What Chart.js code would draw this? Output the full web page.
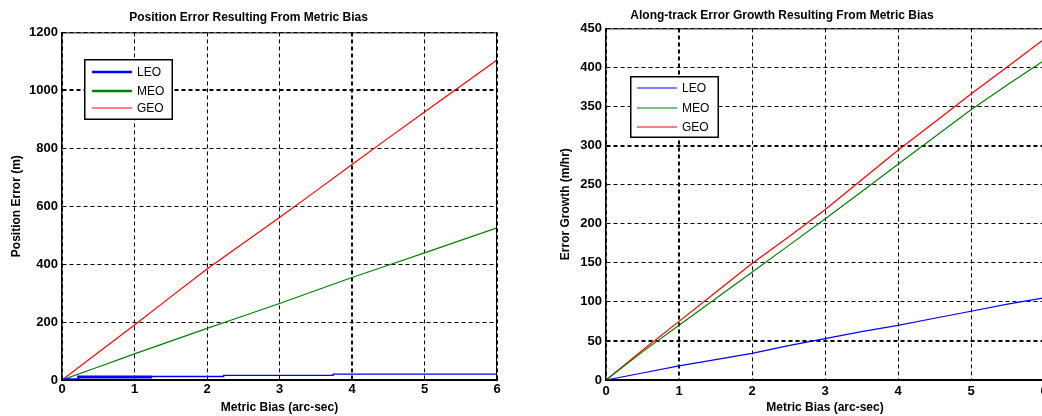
<!DOCTYPE html>
<html>
<head>
<meta charset="utf-8">
<script src="https://cdn.jsdelivr.net/npm/chart.js@4"></script>
<style>
  html, body { margin: 0; padding: 0; background: #fff; }
  body { width: 1042px; height: 416px; overflow: hidden; position: relative; }
  .panel { position: absolute; top: 0; height: 416px; }
  #leftPanel { left: 0; width: 510px; }
  #rightPanel { left: 520px; width: 540px; }
</style>
</head>
<body>
<div class="panel" id="leftPanel"><canvas id="posChart" width="510" height="416"></canvas></div>
<div class="panel" id="rightPanel"><canvas id="growthChart" width="540" height="416"></canvas></div>
<script>
// Position error vs metric bias (left plot)
const posBias = [0, 0.5, 1, 1.5, 2, 2.5, 3, 3.5, 4, 4.5, 5, 5.5, 6];
const posGEO = [0, 95, 190, 287, 383, 472, 561, 652, 744, 835, 925, 1015, 1105];
const posMEO = [0, 45, 90, 134, 178, 221, 264, 309, 354, 396, 439, 482, 525];
const posLeoBias = [0, 0.23, 1.24, 2.23, 3.74, 4.73, 6];
const posLEO = [0, 4, 10, 12, 16, 20, 20];

// Along-track error growth vs metric bias (right plot)
const growthBias = [0, 0.5, 1, 1.5, 2, 2.5, 3, 3.5, 4, 4.5, 5, 5.5, 6];
const growthLEO = [0, 9, 18, 26, 34, 44, 53, 62, 70, 79, 88, 97, 105];
const growthMEO = [0, 36, 70, 104, 138, 172, 206, 241, 276, 311, 346, 378, 409];
const growthGEO = [0, 38, 75, 112, 149, 183, 218, 256, 294, 330, 366, 401, 436];

const orbitNames = ['LEO', 'MEO', 'GEO'];
const orbitColors = ['#0000ff', '#008000', '#ff0000'];

const FONT = '"Liberation Sans", Arial, sans-serif';

const toPoints = (xs, ys) => xs.map((x, i) => ({ x: x, y: ys[i] }));

// box around the plot + legend drawn inside the axes
const boxLegendPlugin = {
    id: 'boxLegend',
    afterDraw(chart, args, opts) {
        const { ctx, chartArea: a } = chart;
        ctx.save();
        ctx.strokeStyle = '#000';
        ctx.lineWidth = 1;
        ctx.setLineDash([]);
        ctx.beginPath();
        ctx.moveTo(a.left, a.top + 0.5);
        ctx.lineTo(a.right, a.top + 0.5);
        ctx.moveTo(a.right - 0.5, a.top);
        ctx.lineTo(a.right - 0.5, a.bottom);
        ctx.stroke();

        ctx.fillStyle = '#fff';
        ctx.fillRect(opts.x, opts.y, opts.w, opts.h);
        ctx.lineWidth = 1.5;
        ctx.strokeRect(opts.x + 0.75, opts.y + 0.75, opts.w - 1.5, opts.h - 1.5);

        ctx.font = '12px ' + FONT;
        ctx.textBaseline = 'middle';
        ctx.textAlign = 'left';
        orbitNames.forEach((name, i) => {
            const y = opts.rows[i];
            ctx.strokeStyle = orbitColors[i];
            ctx.lineWidth = opts.lineWidths[i];
            ctx.beginPath();
            ctx.moveTo(opts.lineX1, y);
            ctx.lineTo(opts.lineX2, y);
            ctx.stroke();
            ctx.fillStyle = '#000';
            ctx.fillText(name, opts.textX, y + 1);
        });
        ctx.restore();
    }
};

function axisConfig(min, max, step, yWidth, xTickPad, thickX, thickY, yTitle, yTitlePad) {
    return {
        x: {
            type: 'linear',
            min: 0, max: 6,
            afterFit: (scale) => { scale.height = 36; },
            ticks: {
                stepSize: 1, color: '#000', padding: xTickPad,
                font: { family: FONT, size: 13, weight: 'bold' },
                callback: (v) => String(v)
            },
            grid: {
                color: '#000',
                drawTicks: false,
                lineWidth: (c) => (c.tick && thickX.includes(c.tick.value)) ? 2 : 1
            },
            border: { display: true, color: '#000', width: 2, dash: [4, 3] },
            title: {
                display: true, text: 'Metric Bias (arc-sec)', color: '#000',
                font: { family: FONT, size: 12, weight: 'bold' },
                padding: { top: 0, bottom: 1 }
            }
        },
        y: {
            type: 'linear',
            min: min, max: max,
            afterFit: (scale) => { scale.width = yWidth; },
            ticks: {
                stepSize: step, color: '#000', padding: 4,
                font: { family: FONT, size: 13, weight: 'bold' },
                callback: (v) => String(v)
            },
            grid: {
                color: '#000',
                drawTicks: false,
                lineWidth: (c) => (c.tick && thickY.includes(c.tick.value)) ? 2 : 1
            },
            border: { display: true, color: '#000', width: 1.5, dash: [4, 3] },
            title: {
                display: true, text: yTitle, color: '#000',
                font: { family: FONT, size: 12, weight: 'bold' },
                padding: { top: yTitlePad, bottom: 0 }
            }
        }
    };
}

new Chart(document.getElementById('posChart'), {
    type: 'line',
    data: {
        datasets: [
            {
                label: 'LEO',
                data: toPoints(posLeoBias, posLEO),
                borderColor: orbitColors[0],
                borderWidth: 1.3,
                stepped: 'after',
                segment: { borderWidth: (c) => c.p0DataIndex === 1 ? 3 : 1.3 }
            },
            { label: 'MEO', data: toPoints(posBias, posMEO), borderColor: orbitColors[1], borderWidth: 1.2 },
            { label: 'GEO', data: toPoints(posBias, posGEO), borderColor: orbitColors[2], borderWidth: 1.2 }
        ]
    },
    options: {
        responsive: false,
        animation: false,
        elements: { point: { radius: 0 }, line: { tension: 0 } },
        layout: { padding: { left: 0, right: 13, top: 0, bottom: 0 } },
        scales: axisConfig(0, 1200, 200, 62, 2, [4], [1000], 'Position Error (m)', 9),
        plugins: {
            legend: { display: false },
            tooltip: { enabled: false },
            title: {
                display: true,
                text: 'Position Error Resulting From Metric Bias',
                color: '#000',
                font: { family: FONT, size: 12, weight: 'bold' },
                padding: { top: 10, bottom: 8 }
            },
            boxLegend: {
                x: 84, y: 59, w: 89, h: 61,
                rows: [72, 91, 108],
                lineX1: 92, lineX2: 132, textX: 137,
                lineWidths: [2.5, 2.5, 1]
            }
        }
    },
    plugins: [boxLegendPlugin]
});

new Chart(document.getElementById('growthChart'), {
    type: 'line',
    data: {
        datasets: [
            { label: 'LEO', data: toPoints(growthBias, growthLEO), borderColor: orbitColors[0], borderWidth: 1.2 },
            { label: 'MEO', data: toPoints(growthBias, growthMEO), borderColor: orbitColors[1], borderWidth: 1.2 },
            { label: 'GEO', data: toPoints(growthBias, growthGEO), borderColor: orbitColors[2], borderWidth: 1.2 }
        ]
    },
    options: {
        responsive: false,
        animation: false,
        elements: { point: { radius: 0 }, line: { tension: 0 } },
        layout: { padding: { left: 0, right: 16, top: 0, bottom: 0 } },
        scales: axisConfig(0, 450, 50, 86, 4, [1], [300, 50], 'Error Growth (m/hr)', 38),
        plugins: {
            legend: { display: false },
            tooltip: { enabled: false },
            title: {
                display: true,
                text: 'Along-track Error Growth Resulting From Metric Bias',
                color: '#000',
                font: { family: FONT, size: 12, weight: 'bold' },
                padding: { top: 8, bottom: 6 }
            },
            boxLegend: {
                x: 110, y: 76, w: 89, h: 62,
                rows: [88, 108, 127],
                lineX1: 117, lineX2: 157, textX: 162,
                lineWidths: [1, 1, 1]
            }
        }
    },
    plugins: [boxLegendPlugin]
});
</script>
</body>
</html>
